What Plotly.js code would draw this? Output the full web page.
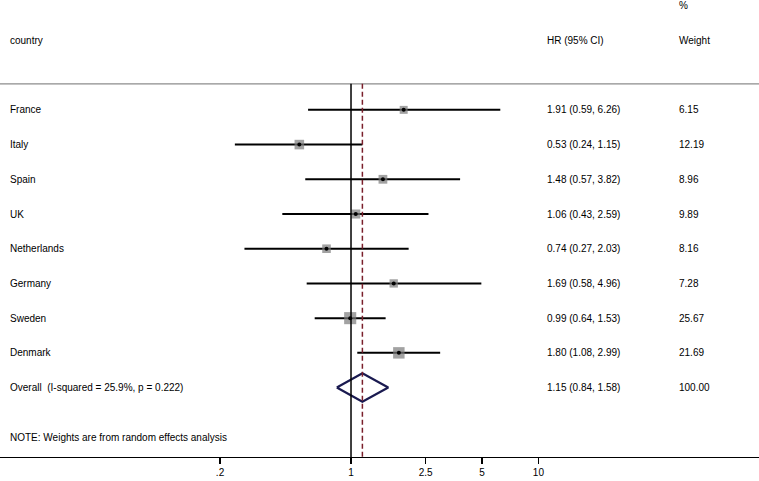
<!DOCTYPE html>
<html><head><meta charset="utf-8">
<script src="https://cdn.plot.ly/plotly-3.0.1.min.js"></script>
<style>html,body{margin:0;padding:0;background:#fff}#chart{width:759px;height:481px}</style>
</head><body><div id="chart"></div>
<script>
const countries = ['France','Italy','Spain','UK','Netherlands','Germany','Sweden','Denmark'];
const hr     = [1.91, 0.53, 1.48, 1.06, 0.74, 1.69, 0.99, 1.80];
const ciLow  = [0.59, 0.24, 0.57, 0.43, 0.27, 0.58, 0.64, 1.08];
const ciHigh = [6.26, 1.15, 3.82, 2.59, 2.03, 4.96, 1.53, 2.99];
const weights = [6.15, 12.19, 8.96, 9.89, 8.16, 7.28, 25.67, 21.69];
const overallLabel = 'Overall  (I-squared = 25.9%, p = 0.222)';
const overallHR = 1.15, overallLow = 0.84, overallHigh = 1.58, overallWeight = 100.00;
const noteText = 'NOTE: Weights are from random effects analysis';
const tickVals = [0.2, 1, 2.5, 5, 10];
const tickText = ['.2', '1', '2.5', '5', '10'];

const n = countries.length;
const rows = countries.map((_, i) => i);
const fmt = v => v.toFixed(2);

const ciX = [], ciY = [];
for (let i = 0; i < n; i++) { ciX.push(ciLow[i], ciHigh[i], null); ciY.push(i, i, null); }

const traces = [
  {type:'scatter', mode:'lines', x:ciX, y:ciY, line:{color:'#000', width:2}, hoverinfo:'skip'},
  {type:'scatter', mode:'markers', x:hr, y:rows,
   marker:{symbol:'square', color:'#7a7a7a', size:weights.map(w => 4 + 1.6*Math.sqrt(w)), line:{width:0}}},
  {type:'scatter', mode:'markers', x:hr, y:rows, marker:{symbol:'circle', color:'#000', size:4}},
  {type:'scatter', mode:'lines',
   x:[overallLow, overallHR, overallHigh, overallHR, overallLow],
   y:[n, n-0.41, n, n+0.41, n], line:{color:'#1a1a50', width:2.2}}
];

const ann = [];
const fontBase = {family:'Liberation Sans, Arial, sans-serif', size:10, color:'#000'};
function addText(txt, xp, y) {
  ann.push({text:txt, x:xp, xref:'paper', y:y, yref:'y', xanchor:'left', yanchor:'middle',
            showarrow:false, font:fontBase});
}
const colName = 0.0105, colHR = 0.718, colW = 0.892;
addText('country', colName, -2);
addText('HR (95% CI)', colHR, -2);
addText('Weight', colW, -2);
addText('%', colW, -3);
for (let i = 0; i < n; i++) {
  addText(countries[i], colName, i);
  addText(fmt(hr[i]) + ' (' + fmt(ciLow[i]) + ', ' + fmt(ciHigh[i]) + ')', colHR, i);
  addText(fmt(weights[i]), colW, i);
}
addText(overallLabel, colName, n);
addText(fmt(overallHR) + ' (' + fmt(overallLow) + ', ' + fmt(overallHigh) + ')', colHR, n);
addText(fmt(overallWeight), colW, n);
addText(noteText, colName, n + 1.45);

const headerLineY = -0.75;
const shapes = [
  {type:'line', xref:'paper', x0:0, x1:1, yref:'y', y0:headerLineY, y1:headerLineY, line:{color:'#8c8c8c', width:1.2}},
  {type:'line', xref:'x', x0:1, x1:1, yref:'y', y0:headerLineY, y1:10, line:{color:'#000', width:1.5}},
  {type:'line', xref:'x', x0:overallHR, x1:overallHR, yref:'y', y0:headerLineY, y1:10, line:{color:'#7a1f2b', width:1.5, dash:'5px,3px'}}
];

const layout = {
  width:759, height:481,
  margin:{l:0, r:0, t:0, b:24},
  paper_bgcolor:'#fff', plot_bgcolor:'#fff',
  showlegend:false,
  xaxis:{type:'log', range:[-1.873, 2.177], tickvals:tickVals, ticktext:tickText,
         showgrid:false, zeroline:false, showline:true, linecolor:'#000', linewidth:1.2,
         ticks:'outside', ticklen:6, tickcolor:'#000', tickwidth:1.2,
         tickfont:{family:'Liberation Sans, Arial, sans-serif', size:10, color:'#000'}},
  yaxis:{range:[10, -3.165], showgrid:false, zeroline:false, showline:false, showticklabels:false, ticks:''},
  annotations:ann, shapes:shapes
};
Plotly.newPlot('chart', traces, layout, {displayModeBar:false, staticPlot:true});
</script></body></html>
